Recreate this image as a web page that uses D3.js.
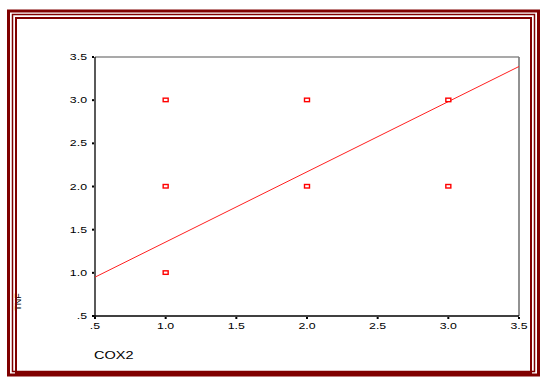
<!DOCTYPE html>
<html>
<head>
<meta charset="utf-8">
<script src="https://cdn.jsdelivr.net/npm/d3@7"></script>
<style>
  html, body { margin: 0; padding: 0; background: #fff; }
  text { font-family: "Liberation Sans", Arial, sans-serif; }
</style>
</head>
<body>
<div id="chart"></div>
<script>
// observed (COX2, y) pairs
const cox2 = [1, 1, 1, 2, 2, 3, 3];
const yVals = [3, 2, 1, 3, 2, 3, 2];
// fitted line, at the two ends of the x range
const fitX = [0.5, 3.5];
const fitY = [0.95, 3.39];
const tickValues = [0.5, 1.0, 1.5, 2.0, 2.5, 3.0, 3.5];
const xTitle = 'COX2';
const yTitle = 'TNF';

const W = 540, H = 377;
const plot = { left: 95, right: 519, top: 57, bottom: 316 };

const svg = d3.select('#chart').append('svg')
  .attr('width', W).attr('height', H);

const x = d3.scaleLinear().domain([0.5, 3.5]).range([plot.left, plot.right]);
const y = d3.scaleLinear().domain([0.5, 3.5]).range([plot.bottom, plot.top]);

const fmt = v => v === 0.5 ? '.5' : d3.format('.1f')(v);
const stretch = 1.45; // labels in the picture are wider than they are tall

// y title, mostly hidden under the frame
svg.append('text')
  .attr('transform', 'translate(21,302) rotate(-90)')
  .attr('text-anchor', 'middle')
  .attr('font-size', 9)
  .attr('fill', '#000')
  .text(yTitle);

// plot box: top/right gray, left/bottom black
svg.append('line').attr('x1', plot.left).attr('x2', plot.right)
  .attr('y1', plot.top).attr('y2', plot.top)
  .attr('stroke', '#555').attr('stroke-width', 1.2);
svg.append('line').attr('x1', plot.right).attr('x2', plot.right)
  .attr('y1', plot.top).attr('y2', plot.bottom)
  .attr('stroke', '#777').attr('stroke-width', 1.6);

// axes
const yAxis = svg.append('g');
yAxis.append('line').attr('x1', plot.left).attr('x2', plot.left)
  .attr('y1', plot.top).attr('y2', plot.bottom + 1)
  .attr('stroke', '#000').attr('stroke-width', 1.3);
yAxis.selectAll('rect.tick').data(tickValues).enter().append('rect')
  .attr('x', plot.left - 3).attr('y', d => y(d) - 1)
  .attr('width', 2).attr('height', 2).attr('fill', '#000');
yAxis.selectAll('g.lab').data(tickValues).enter().append('g')
  .attr('transform', d => `translate(${plot.left - 8},${y(d) + 3}) scale(${stretch},1)`)
  .append('text')
  .attr('text-anchor', 'end')
  .attr('font-size', 8.5)
  .attr('fill', '#000')
  .text(fmt);

const xAxis = svg.append('g');
xAxis.append('line').attr('x1', plot.left - 1).attr('x2', plot.right)
  .attr('y1', plot.bottom).attr('y2', plot.bottom)
  .attr('stroke', '#000').attr('stroke-width', 1.3);
xAxis.selectAll('rect.tick').data(tickValues).enter().append('rect')
  .attr('x', d => x(d) - 1).attr('y', plot.bottom + 1)
  .attr('width', 2).attr('height', 2).attr('fill', '#000');
xAxis.selectAll('g.lab').data(tickValues).enter().append('g')
  .attr('transform', d => `translate(${x(d)},${plot.bottom + 13}) scale(${stretch},1)`)
  .append('text')
  .attr('text-anchor', 'middle')
  .attr('font-size', 8.5)
  .attr('fill', '#000')
  .text(fmt);

svg.append('g')
  .attr('transform', `translate(${plot.left - 1},359) scale(${stretch},1)`)
  .append('text')
  .attr('font-size', 10)
  .attr('fill', '#000')
  .text(xTitle);

// fit line
svg.append('path')
  .datum(fitX.map((v, i) => [v, fitY[i]]))
  .attr('d', d3.line().x(d => x(d[0])).y(d => y(d[1])))
  .attr('fill', 'none')
  .attr('stroke', '#ff2020')
  .attr('stroke-width', 1);

// points
svg.selectAll('rect.pt').data(cox2.map((v, i) => [v, yVals[i]])).enter().append('rect')
  .attr('x', d => x(d[0]) - 2.5).attr('y', d => y(d[1]) - 2)
  .attr('width', 5).attr('height', 3.5)
  .attr('fill', '#fff')
  .attr('stroke', '#ff0000')
  .attr('stroke-width', 1.4);

// dark red triple frame
const frameColor = '#800000';
svg.append('rect').attr('x', 8.5).attr('y', 11).attr('width', 530).attr('height', 364)
  .attr('fill', 'none').attr('stroke', frameColor).attr('stroke-width', 3);
svg.append('rect').attr('x', 12.5).attr('y', 14.5).attr('width', 522).attr('height', 357)
  .attr('fill', 'none').attr('stroke', frameColor).attr('stroke-width', 1.5);
svg.append('rect').attr('x', 16).attr('y', 18).attr('width', 515).attr('height', 355)
  .attr('fill', 'none').attr('stroke', frameColor).attr('stroke-width', 2);
</script>
</body>
</html>
